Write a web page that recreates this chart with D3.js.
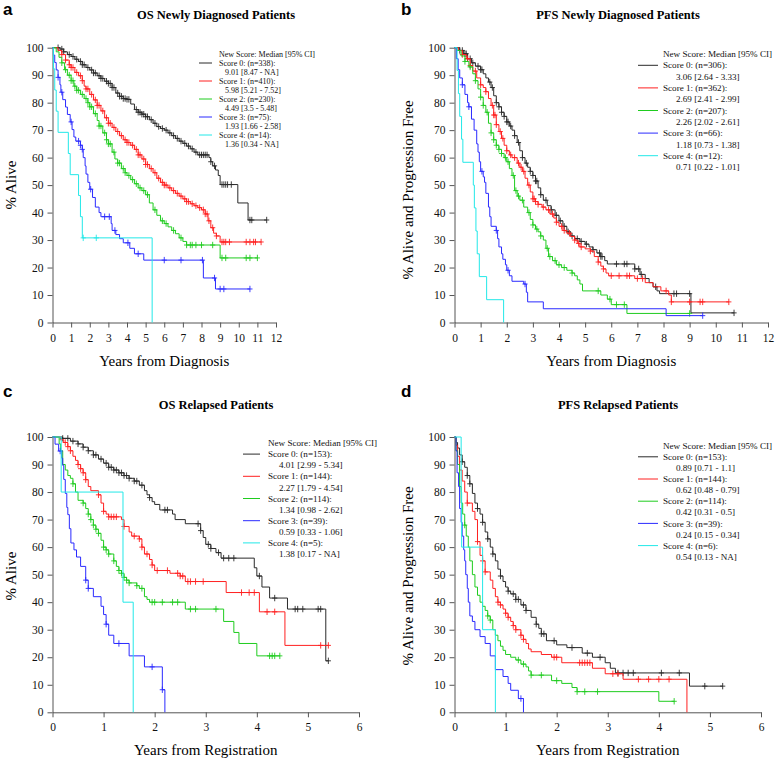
<!DOCTYPE html>
<html><head><meta charset="utf-8">
<script src="https://cdn.jsdelivr.net/npm/d3@7"></script>
<style>body{margin:0;background:#fff}svg{display:block}</style>
</head><body>
<script>
// ---------------- DATA ----------------
const scoreLabels = ["Score 0", "Score 1", "Score 2", "Score 3", "Score 4"];
const legendHeader = "New Score: Median [95% CI]";
const ticks12 = [0,1,2,3,4,5,6,7,8,9,10,11,12];
const ticks6 = [0,1,2,3,4,5,6];
const yTicks = [0,10,20,30,40,50,60,70,80,90,100];

// Panel a: OS newly diagnosed
const aN = [338, 410, 230, 75, 14];
const aMed = ["9.01 [8.47 - NA]", "5.98 [5.21 - 7.52]", "4.49 [3.5 - 5.48]", "1.93 [1.66 - 2.58]", "1.36 [0.34 - NA]"];
const aEnd = [11.5, 11.2, 11.0, 10.6, 5.35];
const aSteps0 = [[0.4,99.5],[0.6,98.5],[0.8,97.5],[1.0,96.8],[1.2,95.8],[1.4,95],[1.6,93.8],[1.8,92.8],[2.0,91.9],[2.2,90.8],[2.4,89.8],[2.6,88.8],[2.8,87.8],[3.0,87],[3.2,85.5],[3.4,83.5],[3.6,82.3],[3.8,81.5],[4.0,81.2],[4.2,79.5],[4.4,77.5],[4.6,76.5],[4.8,75.8],[5.0,74.9],[5.2,73.8],[5.4,72.5],[5.6,71.3],[5.8,70.6],[6.0,70],[6.2,69],[6.4,68],[6.6,67],[6.8,66],[7.0,65.2],[7.2,64.2],[7.4,63.2],[7.6,62],[7.8,61],[8.4,60],[8.5,58.5],[8.6,57],[8.75,55.5],[8.9,53.5],[9.0,50.2],[9.95,43.5],[10.5,37.3]];
const aCens0 = [0.3,0.5,0.6,0.9,1.1,1.3,1.5,1.6,1.7,1.9,2.1,2.2,2.3,2.5,2.6,2.7,2.9,3.0,3.1,3.2,3.3,3.5,3.6,3.7,3.8,3.9,4.0,4.1,4.5,4.6,4.7,4.8,4.9,5.0,5.1,5.3,5.5,5.7,5.9,6.1,6.3,6.5,6.7,6.9,7.1,7.3,7.5,7.7,7.9,8.0,8.1,8.2,8.3,8.5,8.7,9.1,9.2,9.3,9.4,9.6,10.6,10.7,11.5];
const aSteps1 = [[0.3,99],[0.5,97.5],[0.7,95.5],[0.9,93.8],[1.0,92.8],[1.2,91],[1.4,89.8],[1.6,88],[1.7,86],[1.8,85],[2.0,83],[2.2,81],[2.4,79],[2.6,77],[2.8,74.5],[3.0,72.5],[3.2,71],[3.4,69.5],[3.6,68],[3.8,66.5],[4.0,65.5],[4.2,64.5],[4.4,63],[4.6,61],[4.8,59.5],[5.0,57.5],[5.2,56],[5.4,54.5],[5.6,52.5],[5.8,51],[6.0,50],[6.2,49],[6.4,48],[6.6,47],[6.8,46],[7.0,45],[7.2,44],[7.4,43.2],[7.6,42.5],[7.8,41.8],[8.0,41],[8.2,39.5],[8.35,37],[8.5,34.5],[8.65,32.5],[8.8,31.5],[9.0,29.3]];
const aCens1 = [0.5,0.7,0.9,1.0,1.1,1.3,1.5,1.6,1.8,1.9,2.1,2.3,2.4,2.5,2.7,2.9,3.0,3.1,3.3,3.5,3.7,3.9,4.0,4.1,4.3,4.5,4.6,4.7,4.9,5.0,5.1,5.3,5.5,5.7,5.9,6.0,6.1,6.3,6.5,6.7,6.9,7.1,7.2,7.3,7.5,7.7,7.9,8.1,8.2,8.3,8.4,8.6,8.8,9.1,9.2,9.3,9.5,10.4,10.6,10.8,10.9,11.2];
const aSteps2 = [[0.2,98.5],[0.35,96.5],[0.5,94.5],[0.65,92],[0.8,90],[1.0,88],[1.15,86],[1.3,84.5],[1.5,83],[1.7,81.5],[1.9,80],[2.0,78.5],[2.2,76],[2.4,73.5],[2.5,71.5],[2.7,69],[2.9,66.5],[3.0,65],[3.2,62],[3.35,59.5],[3.5,58],[3.7,56],[3.9,54.5],[4.0,53.5],[4.2,52],[4.4,50.5],[4.6,49],[4.8,48],[5.0,46.5],[5.2,43.5],[5.4,41],[5.6,39],[5.8,37],[6.0,36],[6.2,34.8],[6.4,33.5],[6.6,32.3],[6.8,30.8],[7.0,29.5],[7.2,28.2],[9.0,23.5]];
const aCens2 = [0.5,0.7,0.9,1.0,1.1,1.2,1.3,1.4,1.6,1.8,1.9,2.0,2.1,2.3,2.5,2.6,2.8,2.9,3.0,3.1,3.3,3.5,3.6,3.8,3.9,4.1,4.3,4.5,4.7,4.9,5.1,5.5,5.9,6.1,6.5,6.9,7.2,7.4,7.5,7.7,8.0,8.6,9.1,9.3,10.4,10.6,11.0];
const aSteps3 = [[0.05,97.3],[0.12,94.6],[0.2,91.9],[0.3,89.2],[0.4,86.5],[0.45,83.8],[0.55,81.1],[0.7,78.4],[0.8,75.7],[0.95,73],[1.05,70.2],[1.15,67.5],[1.25,66],[1.5,64.5],[1.6,63],[1.65,60],[1.75,57],[1.8,54],[1.9,51],[2.0,48.5],[2.15,45.5],[2.3,42],[2.5,40],[2.6,38.5],[3.15,36],[3.2,33.5],[3.4,32],[3.6,30.5],[3.8,29],[4.15,27],[4.4,25],[4.9,22.7],[8.1,16.2],[8.75,12.2]];
const aCens3 = [0.3,0.5,1.0,1.4,1.5,1.6,2.05,2.8,3.05,3.35,4.05,4.6,6.0,6.9,8.05,8.7,9.0,9.2,10.6];
const aSteps4 = [[0.05,92.3],[0.12,84.6],[0.2,76.9],[0.3,69.2],[0.85,61.5],[0.95,53.8],[1.4,46.2],[1.5,38.5],[1.6,30.8],[5.35,0]];
const aCens4 = [1.65, 2.35];

// Panel b: PFS newly diagnosed
const bN = [306, 362, 207, 66, 12];
const bMed = ["3.06 [2.64 - 3.33]", "2.69 [2.41 - 2.99]", "2.26 [2.02 - 2.61]", "1.18 [0.73 - 1.38]", "0.71 [0.22 - 1.01]"];
const bEnd = [10.7, 10.5, 9.0, 9.5, 1.88];
const bSteps0 = [[0.2,99],[0.35,97.8],[0.5,96],[0.65,94.5],[0.8,93.3],[1.0,92],[1.1,90.5],[1.2,89],[1.3,87.5],[1.4,85.5],[1.5,82.5],[1.6,80],[1.7,78.5],[1.8,76.5],[1.9,75],[2.0,73],[2.1,71.5],[2.2,70],[2.3,68],[2.4,65.5],[2.5,62.5],[2.6,60],[2.7,58],[2.8,56.5],[2.9,55],[3.0,53.5],[3.1,51.5],[3.2,49],[3.3,46.5],[3.4,44.5],[3.55,42.5],[3.7,41],[3.85,39],[4.0,37],[4.15,35],[4.3,33],[4.45,31.5],[4.6,30.5],[4.8,29.5],[5.0,28.5],[5.15,27.5],[5.3,26.5],[5.45,25.3],[5.6,24],[5.75,22.5],[5.85,21.3],[6.9,19.5],[7.1,17.5],[7.3,16],[7.45,14.5],[7.6,13],[7.75,11.5],[7.85,10.5],[9.05,3.5]];
const bCens0 = [0.2,0.3,0.4,0.45,0.5,0.6,0.7,0.9,1.0,1.05,1.35,1.45,1.6,1.7,1.8,1.9,2.0,2.05,2.15,2.3,2.45,2.6,2.75,2.9,3.0,3.1,3.15,3.3,3.5,3.7,3.9,4.05,4.2,4.35,4.5,4.7,4.85,5.05,5.3,5.55,5.6,5.65,6.2,6.5,6.6,6.9,7.05,7.15,7.7,8.4,8.5,9.0,10.7];
const bSteps1 = [[0.15,99],[0.3,97.5],[0.45,96],[0.6,93.5],[0.7,91.5],[0.85,89],[1.0,86.5],[1.1,85.5],[1.2,84],[1.3,81.5],[1.4,79],[1.5,75.5],[1.6,72],[1.7,69.5],[1.8,67],[1.9,64.5],[2.0,62.5],[2.1,61],[2.2,60],[2.4,58],[2.5,56.5],[2.6,55],[2.7,52.5],[2.8,50],[2.9,47.5],[3.0,45],[3.1,44],[3.2,43],[3.35,42],[3.5,41],[3.65,39.5],[3.8,38],[3.9,36.5],[4.0,35],[4.15,33.5],[4.3,32.5],[4.45,31.3],[4.6,30],[4.7,28.8],[4.8,27.5],[5.0,26.8],[5.2,26],[5.35,24],[5.5,22],[5.6,20.5],[5.7,19.5],[5.8,18],[5.9,17],[6.9,16],[7.3,14.5],[7.6,13],[7.9,11.5],[8.2,10],[8.3,7.5]];
const bCens1 = [0.3,0.5,0.6,0.8,1.0,1.2,1.45,1.5,1.55,1.6,1.75,1.85,2.0,2.15,2.3,2.45,2.55,2.65,2.85,3.0,3.05,3.1,3.2,3.4,3.6,3.75,3.9,4.1,4.2,4.4,4.6,4.75,4.85,5.2,5.5,5.7,6.0,6.3,6.6,6.7,7.0,7.2,8.1,8.3,9.0,9.4,9.5,10.5];
const bSteps2 = [[0.1,99],[0.25,97],[0.4,95],[0.55,93],[0.7,90.5],[0.8,88],[0.9,85],[1.0,82],[1.1,79],[1.2,76.5],[1.3,72.5],[1.4,69],[1.5,66.5],[1.6,64.5],[1.7,63],[1.8,61.5],[1.9,60],[2.0,58.5],[2.1,56],[2.2,53.5],[2.3,48],[2.4,46],[2.5,44.5],[2.65,42],[2.8,40],[2.9,37.5],[3.0,35.5],[3.1,34],[3.2,33],[3.3,31.5],[3.4,30],[3.5,27],[3.6,24],[3.75,22.5],[3.9,21],[4.1,20],[4.3,19],[4.5,18],[4.6,17],[4.7,15.5],[4.8,14],[4.9,11.5],[5.6,10],[5.85,8.5],[6.0,6.5],[6.6,3.3]];
const bCens2 = [0.4,0.6,0.8,1.0,1.1,1.25,1.4,1.5,1.6,1.7,1.8,1.95,2.05,2.25,2.35,2.45,2.6,2.85,3.0,3.15,3.3,3.55,3.65,3.85,4.0,4.2,4.5,5.5,5.95,6.2,6.5,9.0];
const bSteps3 = [[0.07,96],[0.14,92],[0.2,89],[0.3,86.5],[0.4,83],[0.5,80],[0.55,78.5],[0.65,74],[0.75,70],[0.85,65],[0.9,62],[0.95,58.5],[1.0,55],[1.1,53],[1.15,51],[1.2,47],[1.3,42],[1.35,38.5],[1.4,35],[1.6,33.5],[1.65,30.5],[1.7,27.5],[1.8,25],[1.85,23],[1.95,21],[2.0,19],[2.1,17],[2.2,15],[2.65,14],[2.75,11],[2.8,7.5],[3.4,5],[8.1,2.5]];
const bCens3 = [0.3,0.55,1.05,1.6,2.05,2.7,9.5];
const bSteps4 = [[0.1,91.7],[0.15,83.3],[0.2,75],[0.27,66.7],[0.32,58.3],[0.72,50],[0.76,41.7],[0.82,33.3],[0.87,25],[0.95,16.7],[1.23,8.3],[1.88,0]];
const bCens4 = [];

// Panel c: OS relapsed
const cN = [153, 144, 114, 39, 5];
const cMed = ["4.01 [2.99 - 5.34]", "2.27 [1.79 - 4.54]", "1.34 [0.98 - 2.62]", "0.59 [0.33 - 1.06]", "1.38 [0.17 - NA]"];
const cEnd = [5.4, 5.4, 4.45, 2.2, 1.58];
const cSteps0 = [[0.2,99.5],[0.35,98.5],[0.5,97.5],[0.6,96.3],[0.7,95],[0.8,93.5],[0.9,92],[1.0,90.5],[1.1,89],[1.2,88],[1.3,87],[1.4,86],[1.5,85],[1.6,84],[1.7,82.5],[1.8,80.5],[1.85,79],[1.9,78],[1.95,76.5],[2.0,75.5],[2.1,73.5],[2.35,72],[2.4,70],[2.6,68.5],[2.9,66],[2.95,63.5],[3.0,61],[3.1,59.5],[3.2,58],[3.3,56],[3.95,52.5],[4.0,49.5],[4.1,45.5],[4.25,41.5],[4.6,37.5],[5.35,18.7]];
const cCens0 = [0.2,0.3,0.4,0.5,0.6,0.7,0.8,0.85,0.95,1.05,1.1,1.15,1.2,1.25,1.3,1.35,1.4,1.45,1.5,1.6,1.65,1.75,1.9,2.2,2.25,2.85,2.9,3.05,3.1,3.25,3.35,3.45,3.55,4.05,4.35,4.75,4.8,4.9,5.2,5.25,5.4];
const cSteps1 = [[0.15,99],[0.22,98],[0.3,96.5],[0.35,95],[0.4,93],[0.45,91.5],[0.5,90],[0.55,88.5],[0.6,87],[0.65,84.5],[0.7,82],[0.75,80.5],[0.9,79],[0.95,76],[1.0,73],[1.05,72],[1.1,71],[1.35,70],[1.4,67.5],[1.5,65.5],[1.55,64],[1.7,63],[1.75,60],[1.8,57.5],[1.9,55.5],[1.95,53.5],[2.0,51.5],[2.3,50.5],[2.5,49.5],[2.6,47.5],[3.4,43.5],[4.05,36.5],[4.55,24.3]];
const cCens1 = [0.25,0.3,0.35,0.5,0.55,0.6,0.65,0.9,1.0,1.1,1.15,1.2,1.25,1.4,1.6,1.7,1.75,1.85,1.95,2.05,2.25,2.45,2.5,2.55,2.65,2.7,2.8,2.95,3.7,3.85,3.95,4.2,4.35,5.25,5.4];
const cSteps2 = [[0.13,97.5],[0.16,95],[0.2,90],[0.25,88],[0.3,86],[0.35,85],[0.4,83],[0.45,80],[0.5,77],[0.6,76],[0.65,74],[0.7,72],[0.75,70],[0.8,68],[0.85,66.5],[0.9,65],[0.95,62.5],[1.0,60],[1.05,59],[1.1,57.5],[1.2,55],[1.25,53],[1.3,51.5],[1.35,50.5],[1.4,49],[1.45,48],[1.5,47],[1.65,46],[1.7,45],[1.8,42],[1.85,41],[1.9,40],[2.6,37.5],[3.35,33],[3.55,29],[3.65,25],[4.0,20.5]];
const cCens2 = [0.4,0.6,0.7,0.75,0.8,0.85,0.9,1.0,1.05,1.1,1.2,1.3,1.35,1.4,1.45,1.5,1.65,1.75,1.95,2.0,2.15,2.35,2.45,2.7,2.8,3.2,4.25,4.3,4.35,4.45];
const cSteps3 = [[0.05,97.4],[0.12,94.9],[0.18,92.3],[0.2,89.7],[0.22,84.6],[0.25,79.5],[0.28,74.4],[0.3,71.8],[0.33,66.7],[0.36,61.5],[0.42,59],[0.47,56.4],[0.55,53],[0.65,48],[0.7,45],[0.8,42],[0.95,38.5],[1.0,35.5],[1.05,32],[1.1,28],[1.2,25],[1.5,20.5],[1.8,16.5],[2.15,8.2],[2.2,0]];
const cCens3 = [0.15,0.65,0.7,1.05,1.3,1.95,2.15];
const cSteps4 = [[0.17,80],[1.38,40],[1.58,0]];
const cCens4 = [];

// Panel d: PFS relapsed
const dN = [153, 144, 114, 39, 6];
const dMed = ["0.89 [0.71 - 1.1]", "0.62 [0.48 - 0.79]", "0.42 [0.31 - 0.5]", "0.24 [0.15 - 0.34]", "0.54 [0.13 - NA]"];
const dEnd = [5.25, 4.55, 4.3, 1.35, 0.8];
const dSteps0 = [[0.03,98],[0.06,96],[0.1,93.5],[0.15,91],[0.2,89],[0.25,86],[0.3,83],[0.35,79.5],[0.4,76],[0.45,74],[0.5,72],[0.55,69],[0.6,65.5],[0.65,63],[0.7,60],[0.75,57.5],[0.8,55],[0.85,52],[0.9,49.5],[0.95,47.5],[1.0,45.5],[1.05,44],[1.1,43],[1.2,41],[1.3,39],[1.4,37],[1.5,34.5],[1.6,32],[1.65,30.5],[1.7,28.5],[1.8,26],[2.0,24.5],[2.2,23.5],[2.5,21.5],[2.7,20],[2.95,18],[3.05,16],[3.15,14.3],[4.6,9.5]];
const dCens0 = [0.15,0.25,0.3,0.45,0.55,0.65,0.75,0.9,1.05,1.15,1.2,1.25,1.35,1.4,1.6,1.7,1.75,1.95,2.3,2.6,2.85,3.2,3.3,3.4,3.5,4.05,4.4,4.9,5.25];
const dSteps1 = [[0.03,97],[0.06,93],[0.1,88],[0.15,84],[0.2,80],[0.25,76],[0.35,73],[0.4,70],[0.45,62],[0.5,57],[0.55,55],[0.6,51],[0.7,48],[0.75,45],[0.8,42],[0.85,40],[0.9,39],[0.95,37.5],[1.0,36],[1.05,34.5],[1.1,33],[1.15,31.5],[1.2,30],[1.3,28],[1.35,26.5],[1.4,25],[1.45,23],[1.5,22],[1.7,21],[1.9,20],[2.1,18],[2.7,16],[2.95,14],[3.3,12],[4.55,0]];
const dCens1 = [0.25,0.45,0.55,0.6,0.85,0.9,1.0,1.05,1.15,1.2,1.3,1.35,1.95,2.0,2.45,2.5,2.55,2.6,2.65,3.1,3.2,3.6,3.8,4.0,4.2];
const dSteps2 = [[0.03,95],[0.06,90],[0.1,82],[0.13,76],[0.16,72],[0.2,68],[0.23,64],[0.27,60],[0.3,55],[0.35,50],[0.4,45.5],[0.45,42.5],[0.5,40],[0.55,38.5],[0.6,37],[0.65,35],[0.7,33.5],[0.75,30],[0.8,28],[0.85,26],[0.9,24],[0.95,22.5],[1.0,21],[1.1,20],[1.2,19],[1.3,17.5],[1.4,16.5],[1.45,15],[1.5,13.5],[1.9,11.5],[2.1,10.5],[2.3,9],[2.4,7.5],[4.0,4]];
const dCens2 = [0.2,0.65,0.7,1.25,1.35,1.5,1.7,2.0,2.4,2.55,2.8,4.3];
const dSteps3 = [[0.03,95],[0.05,87],[0.08,82],[0.1,74],[0.13,69],[0.15,64],[0.18,59],[0.2,55],[0.22,50],[0.25,45],[0.27,40],[0.3,35],[0.35,33],[0.4,30],[0.5,27.5],[0.6,25],[0.7,20.5],[0.8,15.5],[0.95,13],[1.05,10.5],[1.1,8],[1.25,5],[1.35,0]];
const dCens3 = [1.3];
const dSteps4 = [[0.13,80],[0.14,60],[0.55,30],[0.8,0]];
const dCens4 = [];

// ---------------- LAYOUT / STYLE ----------------
const colors = ["#2a2a2a", "#ff2020", "#1fcc1f", "#2a2aff", "#22e8e8"];
const svg = d3.select("body").append("svg").attr("width", 775).attr("height", 759);

const panels = [
  {letter:"a", title:"OS Newly Diagnosed Patients", xlab:"Years from Diagnosis", ylab:"% Alive",
   xr:[52.5,276], yr:[322.5,47.7], xmax:12, xticks:ticks12, titleX:216, titleY:19, letterX:3, letterY:15,
   xlabY:366, ylabX:16, ylabY:185,
   leg:{hx:219, vx:225, lx:[199,212], y0:54, dy:9, fs:8},
   n:aN, med:aMed, end:aEnd, steps:[aSteps0,aSteps1,aSteps2,aSteps3,aSteps4], cens:[aCens0,aCens1,aCens2,aCens3,aCens4]},
  {letter:"b", title:"PFS Newly Diagnosed Patients", xlab:"Years from Diagnosis", ylab:"% Alive and Progression Free",
   xr:[454.5,768], yr:[322.5,47.7], xmax:12, xticks:ticks12, titleX:618, titleY:19, letterX:401, letterY:15,
   xlabY:366, ylabX:413, ylabY:190,
   leg:{hx:663, vx:676, lx:[638,658], y0:54, dy:11.3, fs:9.1},
   n:bN, med:bMed, end:bEnd, steps:[bSteps0,bSteps1,bSteps2,bSteps3,bSteps4], cens:[bCens0,bCens1,bCens2,bCens3,bCens4]},
  {letter:"c", title:"OS Relapsed Patients", xlab:"Years from Registration", ylab:"% Alive",
   xr:[52.5,359], yr:[712.3,437], xmax:6, xticks:ticks6, titleX:216, titleY:409, letterX:3, letterY:397,
   xlabY:755, ylabX:16, ylabY:576,
   leg:{hx:268, vx:279, lx:[243,260], y0:443, dy:11.1, fs:9.1},
   n:cN, med:cMed, end:cEnd, steps:[cSteps0,cSteps1,cSteps2,cSteps3,cSteps4], cens:[cCens0,cCens1,cCens2,cCens3,cCens4]},
  {letter:"d", title:"PFS Relapsed Patients", xlab:"Years from Registration", ylab:"% Alive and Progression Free",
   xr:[454.5,761], yr:[712.3,437], xmax:6, xticks:ticks6, titleX:618, titleY:409, letterX:401, letterY:397,
   xlabY:755, ylabX:413, ylabY:576,
   leg:{hx:663, vx:676, lx:[638,658], y0:445.7, dy:11.1, fs:9.1},
   n:dN, med:dMed, end:dEnd, steps:[dSteps0,dSteps1,dSteps2,dSteps3,dSteps4], cens:[dCens0,dCens1,dCens2,dCens3,dCens4]}
];

const serif = "'Liberation Serif','Times New Roman',serif";

panels.forEach(p => {
  const g = svg.append("g");
  const x = d3.scaleLinear().domain([0, p.xmax]).range(p.xr);
  const y = d3.scaleLinear().domain([0, 100]).range(p.yr);

  g.append("text").attr("x", p.letterX).attr("y", p.letterY).text(p.letter)
    .attr("font-family", "'Liberation Sans',Arial,sans-serif").attr("font-weight", "bold").attr("font-size", 17);
  g.append("text").attr("x", p.titleX).attr("y", p.titleY).attr("text-anchor", "middle").text(p.title)
    .attr("font-family", serif).attr("font-weight", "bold").attr("font-size", 12.5);

  const xa = g.append("g").attr("transform", `translate(0,${p.yr[0]})`)
    .call(d3.axisBottom(x).tickValues(p.xticks).tickSize(5).tickSizeOuter(0).tickPadding(6).tickFormat(d3.format("d")));
  const ya = g.append("g").attr("transform", `translate(${p.xr[0]},0)`)
    .call(d3.axisLeft(y).tickValues(yTicks).tickSize(5).tickSizeOuter(0).tickPadding(4).tickFormat(d3.format("d")));
  [xa, ya].forEach(a => {
    a.attr("font-family", serif);
    a.selectAll("path,line").attr("stroke", "#555");
    a.selectAll("text").attr("font-family", serif).attr("font-size", 11.5).attr("fill", "#111");
  });

  g.append("text").attr("x", (p.xr[0] + p.xr[1]) / 2).attr("y", p.xlabY).attr("text-anchor", "middle")
    .text(p.xlab).attr("font-family", serif).attr("font-size", 15);
  g.append("text").attr("transform", `translate(${p.ylabX},${p.ylabY}) rotate(-90)`).attr("text-anchor", "middle")
    .text(p.ylab).attr("font-family", serif).attr("font-size", 15);

  const line = d3.line().x(d => x(d[0])).y(d => y(d[1])).curve(d3.curveStepAfter);
  p.steps.forEach((st, i) => {
    const last = st.length ? st[st.length - 1][1] : 100;
    const pts = [[0, 100]].concat(st);
    if (p.end[i] > pts[pts.length - 1][0]) pts.push([p.end[i], last]);
    g.append("path").attr("d", line(pts)).attr("fill", "none").attr("stroke", colors[i]).attr("stroke-width", 1);
    const valAt = t => {
      let v = 100;
      for (const s of st) { if (s[0] <= t) v = s[1]; else break; }
      return v;
    };
    g.selectAll(null).data(p.cens[i]).enter().append("path")
      .attr("d", t => {
        const cx = x(t), cy = y(valAt(t));
        return `M${cx},${cy - 3.2}V${cy + 3.2}M${cx - 2.6},${cy}H${cx + 2.6}`;
      })
      .attr("stroke", colors[i]).attr("stroke-width", 0.9).attr("fill", "none");
  });

  const L = p.leg;
  const lg = g.append("g").attr("font-family", serif).attr("font-size", L.fs).attr("fill", "#111");
  lg.append("text").attr("x", L.hx).attr("y", L.y0).attr("dy", "0.35em").text(legendHeader);
  scoreLabels.forEach((s, i) => {
    const ry = L.y0 + L.dy * (1 + 2 * i);
    lg.append("line").attr("x1", L.lx[0]).attr("x2", L.lx[1]).attr("y1", ry).attr("y2", ry)
      .attr("stroke", colors[i]).attr("stroke-width", 1);
    lg.append("text").attr("x", L.hx).attr("y", ry).attr("dy", "0.35em").text(`${s}: (n=${p.n[i]}):`);
    lg.append("text").attr("x", L.vx).attr("y", ry + L.dy).attr("dy", "0.35em").text(p.med[i]);
  });
});
</script>
</body></html>
